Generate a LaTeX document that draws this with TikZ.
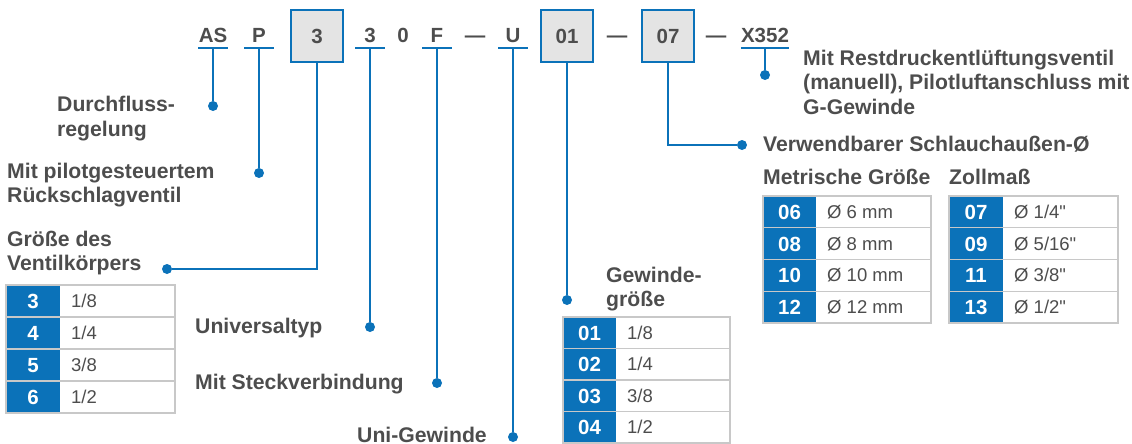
\documentclass[tikz,border=0pt]{standalone}
\usepackage{fontspec}
\setmainfont{Liberation Sans}[Ligatures=TeXOff]
\definecolor{tgray}{HTML}{4D4D4D}
\definecolor{fblue}{HTML}{0B72B9}
\definecolor{boxfill}{HTML}{E4E4E4}
\definecolor{gridgray}{HTML}{C8C8C8}
\newcommand{\lblfont}{\fontsize{21.2}{24.5}\selectfont\bfseries}
\newcommand{\codefont}{\fontsize{20.5}{24.5}\selectfont\bfseries}
\newcommand{\valfont}{\fontsize{18.5}{22}\selectfont}
\tikzset{
  blueline/.style={draw=fblue, line width=2.5pt},
  code/.style={anchor=south, inner xsep=0pt, inner ysep=0pt, text depth=0pt, minimum width=29pt, text=tgray, font=\codefont},
  plain/.style={anchor=base, inner sep=0pt, text=tgray, font=\codefont},
  codebox/.style={draw=fblue, line width=2.5pt, fill=boxfill, minimum size=52pt, inner sep=0pt, text=tgray, font=\codefont},
  dot/.style={circle, fill=fblue, minimum size=10pt, inner sep=0pt},
  lbl/.style={anchor=base west, align=left, inner sep=0pt, text=tgray, font=\lblfont},
  numtxt/.style={anchor=base, inner sep=0pt, text=white, font=\codefont},
  valtxt/.style={anchor=base west, inner sep=0pt, text=tgray, font=\valfont},
  tabgrid/.style={draw=gridgray, line width=1.2pt},
  tabframe/.style={draw=gridgray, line width=2pt},
}
% #1 name, #2 x0, #3 blue end, #4 x1, #5 y0, #6 row height, #7 list
\newcommand{\vtab}[7]{%
  \fill[fblue] (#2,#5) rectangle ({#3},{#5+4*#6});
  \foreach \n/\v [count=\i] in {#7} {
    \node[numtxt] (#1n\i) at ({(#2+#3)/2},{#5+(\i-0.5)*#6+7.5}) {\n};
    \node[valtxt] (#1v\i) at ({#3+11},{#5+(\i-0.5)*#6+6.5}) {\v};
  }
  \foreach \k in {1,2,3} \draw[tabgrid] (#2,{#5+\k*#6}) -- (#4,{#5+\k*#6});
  \draw[tabframe] (#2,#5) rectangle (#4,{#5+4*#6});
}
\begin{document}
\begin{tikzpicture}[x=1pt,y=-1pt]
\useasboundingbox (0,0) rectangle (1132,444);
% code row
\node[code] (cAS) at (213,48) {\raisebox{5pt}{AS}};
\node[code] (cP) at (259,48) {\raisebox{5pt}{P}};
\node[codebox] (B3) at (317,36) {3};
\node[code] (c3) at (370,48) {\raisebox{5pt}{3}};
\node[plain] (c0) at (403,43) {0};
\node[code] (cF) at (437,48) {\raisebox{5pt}{F}};
\node[plain] (d1) at (475,43) {—};
\node[code] (cU) at (513,48) {\raisebox{5pt}{U}};
\node[codebox] (B01) at (567,36) {01};
\node[plain] (d2) at (617,43) {—};
\node[codebox] (B07) at (668,36) {07};
\node[plain] (d3) at (716,43) {—};
\node[code] (cX) at (765,48) {\raisebox{5pt}{X352}};
\foreach \c in {cAS,cP,c3,cF,cU,cX} \draw[blueline] (\c.south west) -- (\c.south east);
% dots
\node[dot] (dAS) at (213,106) {};
\node[dot] (dP) at (259,173) {};
\node[dot] (dB3) at (167,269) {};
\node[dot] (d3dot) at (370,327) {};
\node[dot] (dF) at (437,383) {};
\node[dot] (dU) at (513,437) {};
\node[dot] (dB01) at (567,300) {};
\node[dot] (dB07) at (742,145) {};
\node[dot] (dX) at (765,75) {};
% connectors
\draw[blueline] (cAS.south) -- (dAS);
\draw[blueline] (cP.south) -- (dP);
\draw[blueline] (B3.south) |- (dB3);
\draw[blueline] (c3.south) -- (d3dot);
\draw[blueline] (cF.south) -- (dF);
\draw[blueline] (cU.south) -- (dU);
\draw[blueline] (B01.south) -- (dB01);
\draw[blueline] (B07.south) |- (dB07);
\draw[blueline] (cX.south) -- (dX);
% labels (anchor = baseline of last line)
\node[lbl] (lAS) at (57,136) {Durchfluss-\\regelung};
\node[lbl] (lP) at (7,202.5) {Mit pilotgesteuertem\\Rückschlagventil};
\node[lbl] (lB3) at (7,270.5) {Größe des\\Ventilkörpers};
\node[lbl] (l3) at (195,333) {Universaltyp};
\node[lbl] (lF) at (195,389) {Mit Steckverbindung};
\node[lbl] (lU) at (357,442.5) {Uni-Gewinde};
\node[lbl] (lB01) at (606,306.5) {Gewinde-\\größe};
\node[lbl] (lX) at (803,114) {Mit Restdruckentlüftungsventil\\(manuell), Pilotluftanschluss mit\\G-Gewinde};
\node[lbl] (lB07) at (763,151) {Verwendbarer Schlauchaußen-Ø};
\node[lbl] (lMet) at (763,184) {Metrische Größe};
\node[lbl] (lZoll) at (949,184) {Zollmaß};
% tables
\vtab{tA}{6}{60}{175}{285}{32}{3/{1/8},4/{1/4},5/{3/8},6/{1/2}}
\vtab{tB}{563}{616}{730}{317}{31.5}{01/{1/8},02/{1/4},03/{3/8},04/{1/2}}
\vtab{tC}{763}{816}{931}{196}{31.75}{06/{Ø 6 mm},08/{Ø 8 mm},10/{Ø 10 mm},12/{Ø 12 mm}}
\vtab{tD}{949}{1003}{1118}{196}{31.75}{07/{Ø 1/4"},09/{Ø 5/16"},11/{Ø 3/8"},13/{Ø 1/2"}}
\end{tikzpicture}
\end{document}
